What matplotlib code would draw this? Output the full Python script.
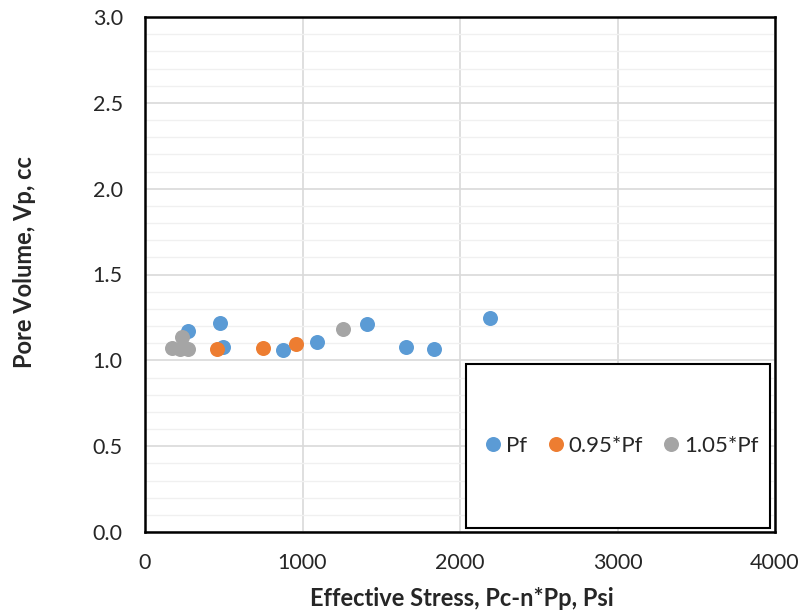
import matplotlib
matplotlib.use("Agg")
import matplotlib.pyplot as plt
from matplotlib.patches import Rectangle
from matplotlib.ticker import MultipleLocator, FormatStrFormatter

plt.rcParams['font.family'] = ['Lato', 'DejaVu Sans']

# Effective stress (psi) and pore volume (cc) for each pore-pressure case
pf_stress = [271, 476, 497, 874, 1092, 1407, 1657, 1835, 2190]
pf_volume = [1.17, 1.215, 1.076, 1.06, 1.108, 1.21, 1.079, 1.064, 1.245]

pf095_stress = [455, 747, 959]
pf095_volume = [1.064, 1.073, 1.093]

pf105_stress = [169, 222, 233, 275, 1259]
pf105_volume = [1.07, 1.068, 1.138, 1.068, 1.18]

series_labels = ['Pf', '0.95*Pf', '1.05*Pf']
colors = ['#5B9BD5', '#ED7D31', '#A5A5A5']
text_color = '#262626'
tick_fs = 15.5
legend_fs = 16
title_fs = 17

W, H = 805, 616
fig = plt.figure(figsize=(W / 100, H / 100), dpi=100)
ax = fig.add_axes([145 / W, 1 - 532 / H, 630 / W, 515 / H])

for xs, ys, c, lab in [(pf_stress, pf_volume, colors[0], series_labels[0]),
                       (pf095_stress, pf095_volume, colors[1], series_labels[1]),
                       (pf105_stress, pf105_volume, colors[2], series_labels[2])]:
    ax.plot(xs, ys, 'o', color=c, ms=10.8, mec='none', label=lab, zorder=3)

ax.set_xlim(0, 4000)
ax.set_ylim(0, 3.0)
ax.xaxis.set_major_locator(MultipleLocator(1000))
ax.yaxis.set_major_locator(MultipleLocator(0.5))
ax.yaxis.set_minor_locator(MultipleLocator(0.1))
ax.yaxis.set_major_formatter(FormatStrFormatter('%.1f'))

ax.grid(which='major', axis='both', color='#D9D9D9', lw=1.2, zorder=0)
ax.grid(which='minor', axis='y', color='#F0F0F0', lw=1.0, zorder=0)
ax.set_axisbelow(True)
ax.tick_params(which='both', length=0, labelsize=tick_fs, colors=text_color)
ax.tick_params(axis='x', pad=15)
ax.tick_params(axis='y', pad=16)

for sp in ax.spines.values():
    sp.set_color('black')
    sp.set_linewidth(1.8)

# Axis titles
fig.text(462 / W, 1 - 606 / H, 'Effective Stress, Pc-n*Pp, Psi', fontsize=title_fs,
         fontweight='bold', color=text_color, ha='center', va='baseline')
fig.text(25 / W, 1 - 262 / H, 'Pore Volume, Vp, cc', fontsize=title_fs,
         fontweight='bold', color=text_color, ha='center', va='center', rotation=90)

# Legend panel in the lower right corner
box = Rectangle((0.509, 0.008), 0.483, 0.318, transform=ax.transAxes,
                facecolor='white', edgecolor='black', lw=1.5, zorder=4)
ax.add_patch(box)
leg = ax.legend(loc='center', bbox_to_anchor=(0.757, 0.167), ncol=3, frameon=False,
                fontsize=legend_fs, handletextpad=0.21, columnspacing=0.95, handlelength=0.7,
                borderpad=0, borderaxespad=0, labelcolor=text_color)
leg.set_zorder(5)

fig.savefig('out.png', dpi=100)
